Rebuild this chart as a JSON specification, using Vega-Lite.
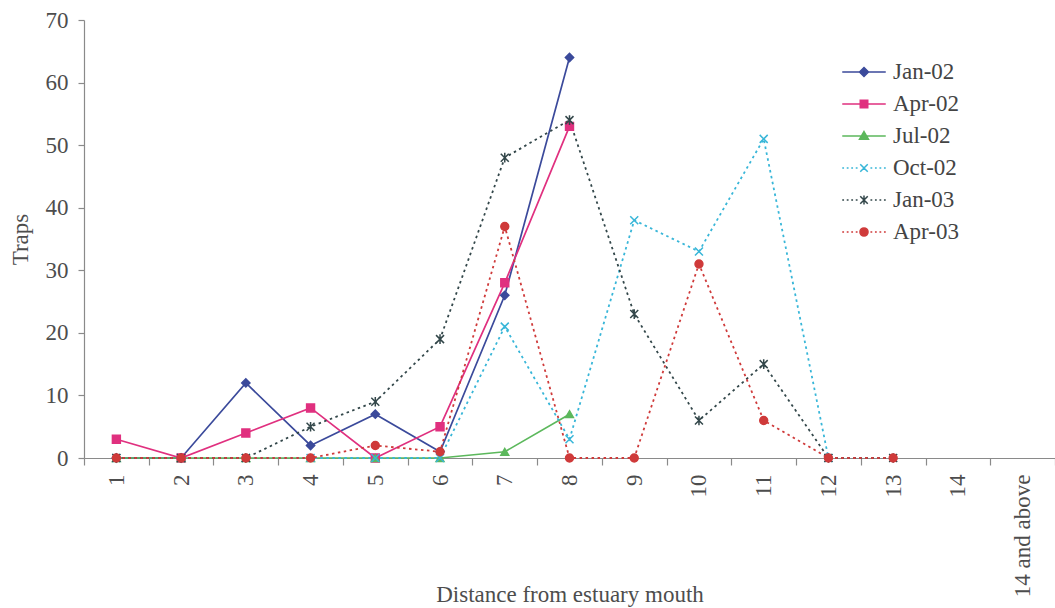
{
  "$schema": "https://vega.github.io/schema/vega-lite/v6.json",
  "width": 971,
  "height": 438,
  "autosize": {"type": "none"},
  "padding": {"left": 84, "top": 20, "right": 0, "bottom": 150},
  "background": "white",
  "config": {"view": {"stroke": null}, "font": "Liberation Serif"},
  "data": {"values": [
    {"d": "1", "s": "Jan-02", "v": 0}, {"d": "2", "s": "Jan-02", "v": 0}, {"d": "3", "s": "Jan-02", "v": 12}, {"d": "4", "s": "Jan-02", "v": 2},
    {"d": "5", "s": "Jan-02", "v": 7}, {"d": "6", "s": "Jan-02", "v": 1}, {"d": "7", "s": "Jan-02", "v": 26}, {"d": "8", "s": "Jan-02", "v": 64},
    {"d": "1", "s": "Apr-02", "v": 3}, {"d": "2", "s": "Apr-02", "v": 0}, {"d": "3", "s": "Apr-02", "v": 4}, {"d": "4", "s": "Apr-02", "v": 8},
    {"d": "5", "s": "Apr-02", "v": 0}, {"d": "6", "s": "Apr-02", "v": 5}, {"d": "7", "s": "Apr-02", "v": 28}, {"d": "8", "s": "Apr-02", "v": 53},
    {"d": "1", "s": "Jul-02", "v": 0}, {"d": "2", "s": "Jul-02", "v": 0}, {"d": "3", "s": "Jul-02", "v": 0}, {"d": "4", "s": "Jul-02", "v": 0},
    {"d": "5", "s": "Jul-02", "v": 0}, {"d": "6", "s": "Jul-02", "v": 0}, {"d": "7", "s": "Jul-02", "v": 1}, {"d": "8", "s": "Jul-02", "v": 7},
    {"d": "1", "s": "Oct-02", "v": 0}, {"d": "2", "s": "Oct-02", "v": 0}, {"d": "3", "s": "Oct-02", "v": 0}, {"d": "4", "s": "Oct-02", "v": 0},
    {"d": "5", "s": "Oct-02", "v": 0}, {"d": "6", "s": "Oct-02", "v": 0}, {"d": "7", "s": "Oct-02", "v": 21}, {"d": "8", "s": "Oct-02", "v": 3},
    {"d": "9", "s": "Oct-02", "v": 38}, {"d": "10", "s": "Oct-02", "v": 33}, {"d": "11", "s": "Oct-02", "v": 51}, {"d": "12", "s": "Oct-02", "v": 0},
    {"d": "1", "s": "Jan-03", "v": 0}, {"d": "2", "s": "Jan-03", "v": 0}, {"d": "3", "s": "Jan-03", "v": 0}, {"d": "4", "s": "Jan-03", "v": 5},
    {"d": "5", "s": "Jan-03", "v": 9}, {"d": "6", "s": "Jan-03", "v": 19}, {"d": "7", "s": "Jan-03", "v": 48}, {"d": "8", "s": "Jan-03", "v": 54},
    {"d": "9", "s": "Jan-03", "v": 23}, {"d": "10", "s": "Jan-03", "v": 6}, {"d": "11", "s": "Jan-03", "v": 15}, {"d": "12", "s": "Jan-03", "v": 0},
    {"d": "13", "s": "Jan-03", "v": 0},
    {"d": "1", "s": "Apr-03", "v": 0}, {"d": "2", "s": "Apr-03", "v": 0}, {"d": "3", "s": "Apr-03", "v": 0}, {"d": "4", "s": "Apr-03", "v": 0},
    {"d": "5", "s": "Apr-03", "v": 2}, {"d": "6", "s": "Apr-03", "v": 1}, {"d": "7", "s": "Apr-03", "v": 37}, {"d": "8", "s": "Apr-03", "v": 0},
    {"d": "9", "s": "Apr-03", "v": 0}, {"d": "10", "s": "Apr-03", "v": 31}, {"d": "11", "s": "Apr-03", "v": 6}, {"d": "12", "s": "Apr-03", "v": 0},
    {"d": "13", "s": "Apr-03", "v": 0}
  ]},
  "encoding": {
    "x": {
      "field": "d", "type": "ordinal",
      "scale": {"type": "band", "domain": ["1","2","3","4","5","6","7","8","9","10","11","12","13","14","14 and above"], "paddingInner": 0, "paddingOuter": 0},
      "axis": {
        "title": "Distance from estuary mouth", "labelAngle": -90, "labelAlign": "right", "labelBaseline": "middle",
        "tickBand": "extent", "tickSize": 7, "labelPadding": 9, "grid": false,
        "labelFont": "Liberation Serif", "labelFontSize": 23, "labelColor": "#4d4d4d",
        "domainColor": "#8a8a8a", "tickColor": "#8a8a8a", "domainWidth": 1.2, "tickWidth": 1.2,
        "titleFont": "Liberation Serif", "titleFontSize": 23, "titleFontWeight": "normal", "titleColor": "#4d4d4d",
        "titleY": 125, "titleBaseline": "top"
      }
    },
    "y": {
      "field": "v", "type": "quantitative",
      "scale": {"domain": [0, 70], "nice": false},
      "axis": {
        "title": "Traps", "values": [0,10,20,30,40,50,60,70], "grid": false,
        "tickSize": 6, "labelPadding": 10,
        "labelFont": "Liberation Serif", "labelFontSize": 23, "labelColor": "#4d4d4d",
        "domainColor": "#8a8a8a", "tickColor": "#8a8a8a", "domainWidth": 1.2, "tickWidth": 1.2,
        "titleFont": "Liberation Serif", "titleFontSize": 23, "titleFontWeight": "normal", "titleColor": "#4d4d4d",
        "titleAngle": -90, "titleX": -64, "titleY": 219, "titleAlign": "center", "titleBaseline": "middle"
      }
    }
  },
  "layer": [
    {"transform": [{"filter": {"field": "s", "equal": "Jan-02"}}], "mark": {"type": "line", "stroke": "#3b4a9b", "strokeWidth": 1.7}, "encoding": {"order": {"value": null}}},
    {"transform": [{"filter": {"field": "s", "equal": "Apr-02"}}], "mark": {"type": "line", "stroke": "#e0307f", "strokeWidth": 1.7}, "encoding": {"order": {"value": null}}},
    {"transform": [{"filter": {"field": "s", "equal": "Jul-02"}}], "mark": {"type": "line", "stroke": "#5cb85c", "strokeWidth": 1.7}, "encoding": {"order": {"value": null}}},
    {"transform": [{"filter": {"field": "s", "equal": "Oct-02"}}], "mark": {"type": "line", "stroke": "#38b6d8", "strokeWidth": 1.8, "strokeDash": [2.5, 3.5]}, "encoding": {"order": {"value": null}}},
    {"transform": [{"filter": {"field": "s", "equal": "Jan-03"}}], "mark": {"type": "line", "stroke": "#33474a", "strokeWidth": 1.8, "strokeDash": [2.5, 3.5]}, "encoding": {"order": {"value": null}}},
    {"transform": [{"filter": {"field": "s", "equal": "Apr-03"}}], "mark": {"type": "line", "stroke": "#cf3a3a", "strokeWidth": 1.8, "strokeDash": [2.5, 3.5]}, "encoding": {"order": {"value": null}}},
    {
      "transform": [{"filter": {"field": "s", "equal": "Jan-02"}}],
      "mark": {"type": "point", "shape": "diamond", "filled": true, "opacity": 1, "size": 70, "fill": "#3b4a9b", "stroke": "#3b4a9b", "strokeWidth": 1.4}
    },
    {
      "transform": [{"filter": {"field": "s", "equal": "Apr-02"}}],
      "mark": {"type": "point", "shape": "square", "filled": true, "opacity": 1, "size": 64, "fill": "#e0307f", "stroke": "#e0307f", "strokeWidth": 1.4}
    },
    {
      "transform": [{"filter": {"field": "s", "equal": "Jul-02"}}],
      "mark": {"type": "point", "shape": "triangle-up", "filled": true, "opacity": 1, "size": 64, "fill": "#5cb85c", "stroke": "#5cb85c", "strokeWidth": 1.4}
    },
    {
      "transform": [{"filter": {"field": "s", "equal": "Oct-02"}}],
      "mark": {"type": "point", "shape": "M-1,-1L1,1M-1,1L1,-1", "filled": false, "opacity": 1, "size": 64, "stroke": "#38b6d8", "strokeWidth": 1.5}
    },
    {
      "transform": [{"filter": {"field": "s", "equal": "Jan-03"}}],
      "mark": {"type": "point", "shape": "M-1,-1L1,1M-1,1L1,-1M0,-1.2L0,1.2", "filled": false, "opacity": 1, "size": 64, "stroke": "#33474a", "strokeWidth": 1.5}
    },
    {
      "transform": [{"filter": {"field": "s", "equal": "Apr-03"}}],
      "mark": {"type": "point", "shape": "circle", "filled": true, "opacity": 1, "size": 64, "fill": "#cf3a3a", "stroke": "#cf3a3a", "strokeWidth": 1.4}
    },
    {
      "transform": [{"filter": {"field": "s", "equal": "none"}}],
      "mark": {"type": "point", "filled": true, "opacity": 1, "strokeWidth": 1.5},
      "encoding": {
        "fill": {"field": "s", "type": "nominal",
          "scale": {"domain": ["Jan-02","Apr-02","Jul-02","Oct-02","Jan-03","Apr-03"], "range": ["#3b4a9b","#e0307f","#5cb85c","#38b6d8","#33474a","#cf3a3a"]},
          "legend": {"orient": "none", "legendX": 764, "legendY": 36, "title": null, "symbolSize": 900, "symbolStrokeWidth": 1.5, "symbolOpacity": 1, "labelFont": "Liberation Serif", "labelFontSize": 23, "labelColor": "#444444", "labelOffset": 13, "rowPadding": 4, "padding": 0}},
        "stroke": {"field": "s", "type": "nominal",
          "scale": {"domain": ["Jan-02","Apr-02","Jul-02","Oct-02","Jan-03","Apr-03"], "range": ["#3b4a9b","#e0307f","#5cb85c","#38b6d8","#33474a","#cf3a3a"]},
          "legend": {"orient": "none", "legendX": 764, "legendY": 36, "title": null, "symbolSize": 900, "symbolStrokeWidth": 1.5, "symbolOpacity": 1, "labelFont": "Liberation Serif", "labelFontSize": 23, "labelColor": "#444444", "labelOffset": 13, "rowPadding": 4, "padding": 0}},
        "shape": {"field": "s", "type": "nominal",
          "scale": {"domain": ["Jan-02","Apr-02","Jul-02","Oct-02","Jan-03","Apr-03"], "range": [
            "M-1.45,0L1.45,0M0,-0.3L0.3,0L0,0.3L-0.3,0Z",
            "M-1.45,0L1.45,0M-0.25,-0.25L0.25,-0.25L0.25,0.25L-0.25,0.25Z",
            "M-1.45,0L1.45,0M0,-0.3L0.3,0.22L-0.3,0.22Z",
            "M-1.45,0L-1.33,0M-1.15,0L-1.03,0M-0.85,0L-0.73,0M-0.55,0L-0.43,0M0.43,0L0.55,0M0.73,0L0.85,0M1.03,0L1.15,0M1.33,0L1.45,0M-0.25,-0.25L0.25,0.25M-0.25,0.25L0.25,-0.25",
            "M-1.45,0L-1.33,0M-1.15,0L-1.03,0M-0.85,0L-0.73,0M-0.55,0L-0.43,0M0.43,0L0.55,0M0.73,0L0.85,0M1.03,0L1.15,0M1.33,0L1.45,0M-0.25,-0.25L0.25,0.25M-0.25,0.25L0.25,-0.25M0,-0.3L0,0.3",
            "M-1.45,0L-1.33,0M-1.15,0L-1.03,0M-0.85,0L-0.73,0M-0.55,0L-0.43,0M0.43,0L0.55,0M0.73,0L0.85,0M1.03,0L1.15,0M1.33,0L1.45,0M-0.27,0A0.27,0.27,0,1,1,0.27,0A0.27,0.27,0,1,1,-0.27,0Z"
          ]},
          "legend": {"orient": "none", "legendX": 764, "legendY": 36, "title": null, "symbolSize": 900, "symbolStrokeWidth": 1.5, "symbolOpacity": 1, "labelFont": "Liberation Serif", "labelFontSize": 23, "labelColor": "#444444", "labelOffset": 13, "rowPadding": 4, "padding": 0}
        }
      }
    }
  ]
}
